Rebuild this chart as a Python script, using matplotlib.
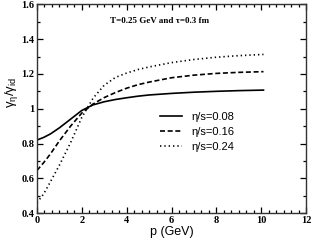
import matplotlib
matplotlib.use("Agg")
import matplotlib.pyplot as plt
from matplotlib.ticker import MultipleLocator

# momentum grid (GeV)
p = [0.0, 0.3, 0.6, 1.0, 1.5, 2.0, 2.5, 3.0, 3.5, 4.0, 4.5, 5.0, 6.0, 7.0, 8.0, 9.0, 10.1]

# gamma_eta / gamma_id for the three eta/s values
ratio_008 = [0.82, 0.835, 0.855, 0.89, 0.94, 0.99, 1.022, 1.04, 1.053, 1.063, 1.072, 1.079,
             1.088, 1.095, 1.100, 1.104, 1.107]
ratio_016 = [0.645, 0.69, 0.74, 0.815, 0.9, 0.975, 1.027, 1.064, 1.093, 1.118, 1.138, 1.153,
             1.178, 1.193, 1.203, 1.209, 1.213]
ratio_024 = [0.46, 0.51, 0.58, 0.675, 0.805, 0.95, 1.06, 1.135, 1.18, 1.205, 1.225, 1.24,
             1.265, 1.283, 1.296, 1.305, 1.312]

labels = ["\u03b7/s=0.08", "\u03b7/s=0.16", "\u03b7/s=0.24"]

plt.rcParams['mathtext.fontset'] = 'custom'
plt.rcParams['mathtext.rm'] = 'Liberation Sans'
plt.rcParams['mathtext.it'] = 'Liberation Sans'

fig = plt.figure(figsize=(3.13, 2.40), dpi=100)
ax = fig.add_axes([0.118, 0.112, 0.860, 0.870])

ax.plot(p, ratio_008, color='black', lw=1.2, ls='-', label=labels[0])
ax.plot(p, ratio_016, color='black', lw=1.2, ls=(0, (3, 1.6)), label=labels[1])
ax.plot(p, ratio_024, color='black', lw=1.2, ls=(0, (0.8, 1.8)), label=labels[2])

ax.set_xlim(0, 12)
ax.set_ylim(0.4, 1.6)
ax.xaxis.set_major_locator(MultipleLocator(2))
ax.xaxis.set_minor_locator(MultipleLocator(2 / 6))
ax.yaxis.set_major_locator(MultipleLocator(0.2))
ax.yaxis.set_minor_locator(MultipleLocator(0.1))
ax.yaxis.set_major_formatter(plt.FuncFormatter(lambda v, pos: ('%g' % round(v, 2))))

ax.tick_params(which='both', direction='in', top=True, right=True, width=0.9,
               colors='black', pad=2)
ax.tick_params(which='major', length=4, labelsize=7.5)
ax.tick_params(which='minor', length=2.5)
for lab in ax.get_xticklabels() + ax.get_yticklabels():
    lab.set_fontfamily('Liberation Serif')
    lab.set_fontweight('bold')
for s in ax.spines.values():
    s.set_linewidth(1.0)
    s.set_color('#333333')

ax.set_xlabel('p (GeV)', fontfamily='Liberation Sans', fontsize=9, labelpad=1)
ax.set_ylabel(r'$\gamma_\eta/\gamma_{\rm id}$', fontsize=9.5)
ax.yaxis.set_label_coords(-0.062, 0.58)

ax.text(0.457, 0.919, "T=0.25 GeV and \u03c4=0.3 fm", transform=ax.transAxes,
        ha='center', va='center', fontsize=6.5, fontfamily='Liberation Serif',
        fontweight='bold')

ax.legend(loc='center left', bbox_to_anchor=(0.457, 0.388), frameon=False,
          prop={'family': 'Liberation Sans', 'size': 8}, handlelength=2.0,
          handletextpad=0.8, labelspacing=0.45, borderpad=0, borderaxespad=0)

fig.savefig('out.png', dpi=100)
